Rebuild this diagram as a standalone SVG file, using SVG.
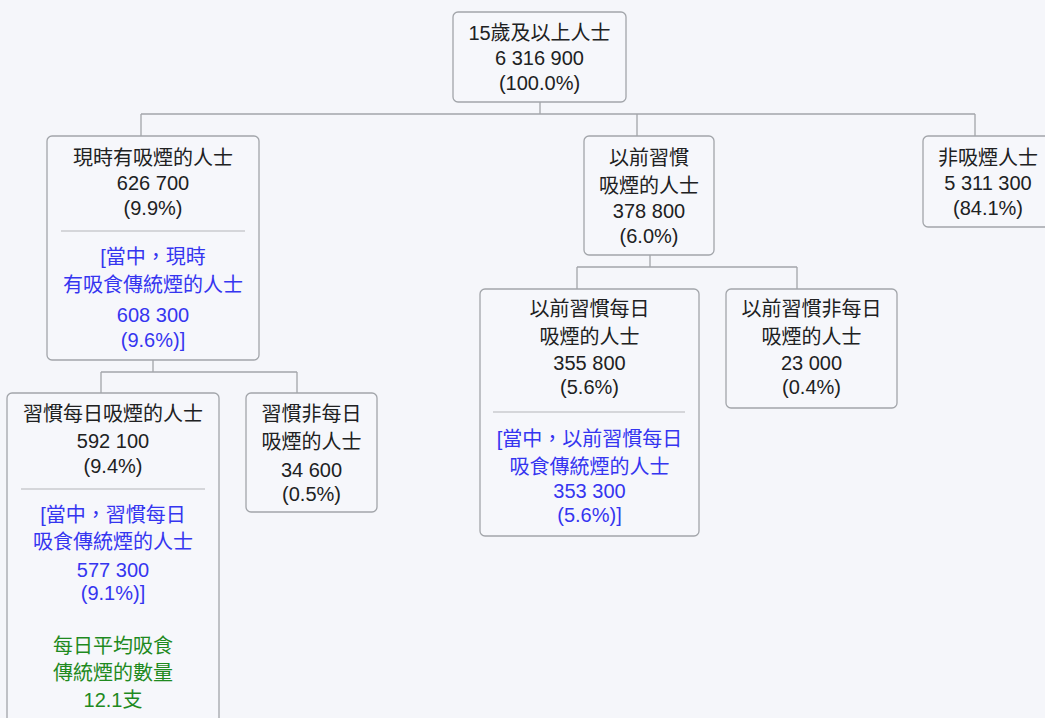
<svg xmlns="http://www.w3.org/2000/svg" width="1045" height="718" viewBox="0 0 1045 718">
<style>
.bg{fill:#f5f6fa}
.box{fill:#f6f7fb;stroke:#a2a5aa;stroke-width:1.3}
.div{stroke:#b4b6ba;stroke-width:1.2}
.conn{fill:none;stroke:#a2a5aa;stroke-width:1.3}
text{font-family:"Liberation Sans","Noto Sans CJK TC",sans-serif;font-size:20px;text-anchor:middle;fill:#202122}
.b{fill:#3535f0}
.g{fill:#1f8a1f}
</style>
<rect class="bg" x="0" y="0" width="1045" height="718"/>
<g id="connectors">
<path class="conn" d="M540,102V114M141,114H975M141,114V136M637,114V136M975,114V136"/>
<path class="conn" d="M153,360V372M101,372H297M101,372V393M297,372V393"/>
<path class="conn" d="M650,255V267M577,267H797M577,267V289M797,267V289"/>
</g>
<g id="root">
<rect class="box" x="453" y="12" width="173" height="90" rx="5"/>
<text x="539.5" y="40">15歲及以上人士</text>
<text x="539.5" y="65">6 316 900</text>
<text x="539.5" y="90">(100.0%)</text>
</g>
<g id="current">
<rect class="box" x="47" y="136" width="212" height="224" rx="5"/>
<text x="153" y="165">現時有吸煙的人士</text>
<text x="153" y="190">626 700</text>
<text x="153" y="215">(9.9%)</text>
<line class="div" x1="61" y1="231" x2="245" y2="231"/>
<text class="b" x="153" y="264">[當中，現時</text>
<text class="b" x="153" y="292">有吸食傳統煙的人士</text>
<text class="b" x="153" y="322">608 300</text>
<text class="b" x="153" y="347">(9.6%)]</text>
</g>
<g id="daily">
<rect class="box" x="7" y="393" width="212" height="340" rx="5"/>
<text x="113" y="421">習慣每日吸煙的人士</text>
<text x="113" y="448">592 100</text>
<text x="113" y="473">(9.4%)</text>
<line class="div" x1="21" y1="489" x2="205" y2="489"/>
<text class="b" x="113" y="522">[當中，習慣每日</text>
<text class="b" x="113" y="549">吸食傳統煙的人士</text>
<text class="b" x="113" y="577">577 300</text>
<text class="b" x="113" y="600">(9.1%)]</text>
<text class="g" x="113" y="653">每日平均吸食</text>
<text class="g" x="113" y="680">傳統煙的數量</text>
<text class="g" x="113" y="707">12.1支</text>
</g>
<g id="nondaily">
<rect class="box" x="246" y="393" width="131" height="119" rx="5"/>
<text x="311.5" y="421">習慣非每日</text>
<text x="311.5" y="449">吸煙的人士</text>
<text x="311.5" y="477">34 600</text>
<text x="311.5" y="501">(0.5%)</text>
</g>
<g id="former">
<rect class="box" x="584" y="136" width="130" height="119" rx="5"/>
<text x="649" y="165">以前習慣</text>
<text x="649" y="193">吸煙的人士</text>
<text x="649" y="218">378 800</text>
<text x="649" y="243">(6.0%)</text>
</g>
<g id="former-daily">
<rect class="box" x="480" y="289" width="219" height="247" rx="5"/>
<text x="589.5" y="316">以前習慣每日</text>
<text x="589.5" y="344">吸煙的人士</text>
<text x="589.5" y="370">355 800</text>
<text x="589.5" y="394">(5.6%)</text>
<line class="div" x1="493" y1="412" x2="685" y2="412"/>
<text class="b" x="589.5" y="446">[當中，以前習慣每日</text>
<text class="b" x="589.5" y="474">吸食傳統煙的人士</text>
<text class="b" x="589.5" y="498">353 300</text>
<text class="b" x="589.5" y="522">(5.6%)]</text>
</g>
<g id="former-nondaily">
<rect class="box" x="726" y="289" width="171" height="119" rx="5"/>
<text x="811.5" y="316">以前習慣非每日</text>
<text x="811.5" y="344">吸煙的人士</text>
<text x="811.5" y="370">23 000</text>
<text x="811.5" y="394">(0.4%)</text>
</g>
<g id="nonsmoker">
<rect class="box" x="923" y="136" width="130" height="91" rx="5"/>
<text x="988" y="165">非吸煙人士</text>
<text x="988" y="190">5 311 300</text>
<text x="988" y="215">(84.1%)</text>
</g>
</svg>
